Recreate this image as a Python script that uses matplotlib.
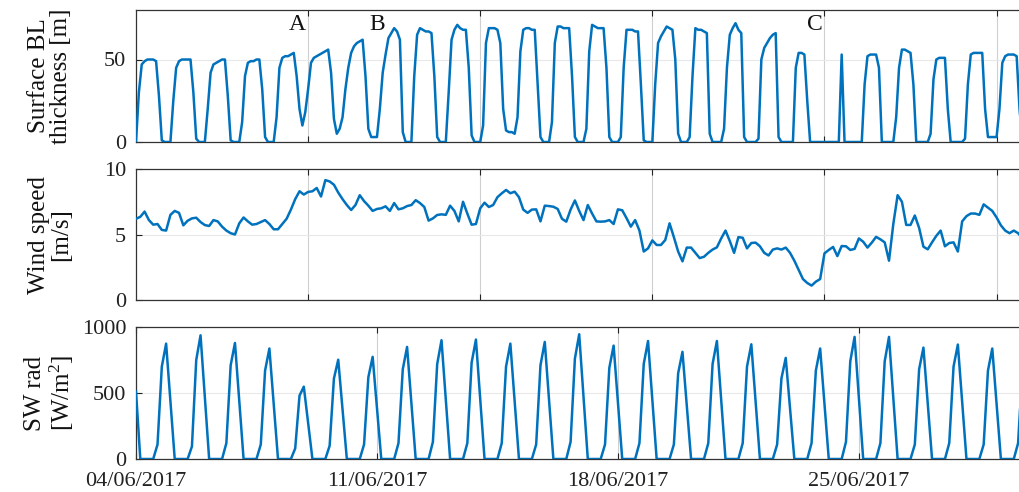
import numpy as np
import matplotlib
matplotlib.use('Agg')
import matplotlib.pyplot as plt
import matplotlib.dates as mdates

plt.rcParams['font.family'] = ['Liberation Serif', 'DejaVu Serif']
plt.rcParams['mathtext.fontset'] = 'custom'
plt.rcParams['mathtext.rm'] = 'Liberation Serif'
plt.rcParams['mathtext.it'] = 'Liberation Serif:italic'

# ---------------- data ----------------
start = np.datetime64('2017-06-04T00:00')

# Surface BL thickness [m], 2-hourly from 04/06/2017 00:00 (one row per day)
bl_thickness = [
    0, 30, 47, 49, 50, 50, 50, 49, 28, 1, 0, 0,
    0, 25, 45, 49, 50, 50, 50, 50, 30, 2, 0, 0,
    0, 20, 42, 47, 48, 49, 50, 50, 28, 1, 0, 0,
    0, 12, 40, 48, 49, 49, 50, 50, 32, 3, 0, 0,
    0, 15, 45, 51, 52, 52, 53, 54, 40, 20, 10, 18,
    32, 48, 51, 52, 53, 54, 55, 56, 42, 14, 5, 8,
    15, 32, 45, 54, 58, 60, 61, 62, 40, 8, 3, 3,
    3, 20, 42, 53, 63, 66, 69, 67, 62, 6, 0, 0,
    0, 40, 65, 69, 68, 67, 67, 66, 40, 3, 0, 0,
    0, 30, 62, 68, 71, 69, 68, 68, 45, 4, 0, 0,
    0, 10, 60, 69, 69, 69, 68, 60, 20, 7, 6, 6,
    5, 15, 55, 68, 69, 69, 68, 68, 35, 3, 0, 0,
    0, 12, 60, 70, 70, 69, 69, 69, 40, 3, 0, 0,
    0, 8, 55, 71, 70, 69, 69, 69, 45, 3, 0, 0,
    0, 3, 45, 68, 68, 68, 67, 67, 35, 1, 0, 0,
    0, 35, 60, 64, 67, 70, 69, 68, 50, 5, 0, 0,
    0, 3, 40, 69, 68, 68, 67, 66, 5, 0, 0, 0,
    0, 8, 45, 65, 69, 72, 68, 66, 3, 0, 0, 0,
    0, 2, 50, 57, 60, 63, 65, 66, 3, 0, 0, 0,
    0, 0, 45, 54, 54, 53, 25, 0, 0, 0, 0, 0,
    0, 0, 0, 0, 0, 0, 53, 0, 0, 0, 0, 0,
    0, 0, 35, 52, 53, 53, 53, 45, 0, 0, 0, 0,
    0, 15, 45, 56, 56, 55, 54, 35, 0, 0, 0, 0,
    0, 5, 38, 50, 51, 51, 51, 20, 0, 0, 0, 0,
    0, 2, 35, 53, 54, 54, 54, 54, 20, 3, 3, 3,
    3, 20, 48, 52, 53, 53, 53, 52, 20, 0,
]

# Wind speed [m/s], 3-hourly from 04/06/2017 00:00
wind_speed = [
    6.2, 6.35, 6.75, 6.1, 5.75, 5.8, 5.35, 5.3,
    6.5, 6.8, 6.65, 5.7, 6.05, 6.23, 6.28, 5.95,
    5.72, 5.65, 6.1, 6.0, 5.6, 5.3, 5.1, 5.0,
    5.85, 6.3, 6.0, 5.75, 5.8, 5.95, 6.1, 5.8,
    5.4, 5.4, 5.8, 6.2, 6.9, 7.7, 8.3, 8.05,
    8.25, 8.3, 8.55, 7.9, 9.15, 9.05, 8.8, 8.2,
    7.7, 7.25, 6.87, 7.25, 8.0, 7.55, 7.2, 6.8,
    6.95, 7.0, 7.15, 6.8, 7.4, 6.92, 7.0, 7.17,
    7.25, 7.62, 7.4, 7.1, 6.06, 6.23, 6.49, 6.54,
    6.5, 7.2, 6.8, 6.0, 7.5, 6.6, 5.75, 5.8,
    7.0, 7.43, 7.1, 7.25, 7.85, 8.14, 8.4, 8.15,
    8.27, 7.85, 6.9, 6.65, 6.9, 6.92, 6.0, 7.2,
    7.17, 7.12, 6.95, 6.2, 5.98, 6.9, 7.6, 6.8,
    6.1, 7.25, 6.6, 6.0, 5.98, 6.0, 6.1, 5.8,
    6.92, 6.85, 6.25, 5.6, 6.1, 5.3, 3.7, 3.94,
    4.55, 4.2, 4.2, 4.58, 5.85, 4.8, 3.7, 2.95,
    4.0, 4.0, 3.6, 3.2, 3.3, 3.6, 3.85, 4.02,
    4.7, 5.3, 4.5, 3.6, 4.8, 4.75, 3.94, 4.35,
    4.38, 4.1, 3.6, 3.4, 3.85, 3.94, 3.85, 4.0,
    3.6, 3.0, 2.3, 1.6, 1.3, 1.1, 1.4, 1.6,
    3.56, 3.82, 4.05, 3.35, 4.12, 4.1, 3.82, 3.9,
    4.7, 4.45, 4.0, 4.38, 4.82, 4.63, 4.4, 3.0,
    5.8, 8.0, 7.5, 5.73, 5.73, 6.45, 5.5, 4.07,
    3.87, 4.4, 4.9, 5.3, 4.1, 4.35, 4.4, 3.7,
    6.0, 6.4, 6.6, 6.6, 6.5, 7.3, 7.05, 6.8,
    6.3, 5.7, 5.3, 5.1, 5.3, 5.1, 4.7,
]

# SW radiation [W/m2], 3-hourly from 04/06/2017 00:00 (one row per day)
sw_rad = [
    510, 0, 0, 0, 0, 110, 700, 874,
    440, 0, 0, 0, 0, 95, 750, 937,
    470, 0, 0, 0, 0, 120, 710, 879,
    440, 0, 0, 0, 0, 110, 670, 837,
    420, 0, 0, 0, 0, 80, 480, 548,
    275, 0, 0, 0, 0, 100, 610, 752,
    375, 0, 0, 0, 0, 110, 620, 774,
    390, 0, 0, 0, 0, 120, 680, 849,
    425, 0, 0, 0, 0, 130, 720, 900,
    450, 0, 0, 0, 0, 120, 730, 905,
    450, 0, 0, 0, 0, 120, 700, 874,
    440, 0, 0, 0, 0, 110, 710, 887,
    445, 0, 0, 0, 0, 130, 760, 945,
    470, 0, 0, 0, 0, 110, 690, 859,
    430, 0, 0, 0, 0, 120, 720, 894,
    445, 0, 0, 0, 0, 110, 650, 812,
    405, 0, 0, 0, 0, 120, 720, 894,
    445, 0, 0, 0, 0, 120, 700, 869,
    435, 0, 0, 0, 0, 110, 610, 766,
    385, 0, 0, 0, 0, 120, 670, 837,
    420, 0, 0, 0, 0, 130, 740, 925,
    460, 0, 0, 0, 0, 120, 740, 925,
    460, 0, 0, 0, 0, 110, 680, 844,
    420, 0, 0, 0, 0, 120, 700, 867,
    435, 0, 0, 0, 0, 110, 670, 837,
    420, 0, 0, 0, 0, 120, 690,
]

ylabels = ['Surface BL\nthickness [m]', 'Wind speed\n[m/s]', 'SW rad\n[W/m$^2$]']
yticks = [[0, 50], [0, 5, 10], [0, 500, 1000]]
ylims = [(0, 80), (0, 10), (0, 1000)]
labels_letters = ['A', 'B', 'C']
letter_times = [np.datetime64('2017-06-08T16:15'), np.datetime64('2017-06-11T00:00'),
                np.datetime64('2017-06-23T17:20')]
letter_y = 71.5
bottom_ticks = [np.datetime64('2017-06-04'), np.datetime64('2017-06-11'),
                np.datetime64('2017-06-18'), np.datetime64('2017-06-25')]
upper_ticks = [np.datetime64('2017-06-09'), np.datetime64('2017-06-14'),
               np.datetime64('2017-06-19'), np.datetime64('2017-06-24'),
               np.datetime64('2017-06-29')]

# ---------------- figure ----------------
W, H = 1020, 492
fig = plt.figure(figsize=(W / 100, H / 100), dpi=100)
line_color = '#0072BD'
spine_color = '#333333'

t_bl = start + np.arange(len(bl_thickness)) * np.timedelta64(2, 'h')
t_ws = start + np.arange(len(wind_speed)) * np.timedelta64(3, 'h')
t_sw = start + np.arange(len(sw_rad)) * np.timedelta64(3, 'h')

series = [(t_bl, bl_thickness), (t_ws, wind_speed), (t_sw, sw_rad)]
boxes = [(10, 142), (169, 300), (327, 459)]
left_px, width_px = 136, 895

axes = []
for k, ((tt, vv), (ytop, ybot)) in enumerate(zip(series, boxes)):
    ax = fig.add_axes([left_px / W, 1 - ybot / H, width_px / W, (ybot - ytop) / H])
    ax.plot(tt, vv, color=line_color, lw=1.8, zorder=3, solid_joinstyle='round')
    ax.set_xlim(np.datetime64('2017-06-04T00:00'), np.datetime64('2017-06-30T00:00'))
    ax.set_ylim(*ylims[k])
    ax.set_yticks(yticks[k])
    if k < 2:
        ax.set_xticks(upper_ticks)
        ax.set_xticklabels([])
    else:
        ax.set_xticks(bottom_ticks)
        ax.xaxis.set_major_formatter(mdates.DateFormatter('%d/%m/%Y'))
    ax.grid(True, axis='x', color='#cfcfcf', lw=0.8, zorder=0)
    ax.grid(True, axis='y', color='#e8e8e8', lw=0.8, zorder=0)
    ax.set_axisbelow(True)
    ax.tick_params(direction='in', length=4, width=0.8, top=True, right=True,
                   colors='#222222', labelsize=16, pad=7)
    ax.tick_params(axis='x', pad=9.5)
    for s in ax.spines.values():
        s.set_color(spine_color)
        s.set_linewidth(0.9)
    fig.text(50 / W, 1 - ((ytop + ybot) / 2) / H, ylabels[k], rotation=90,
             ha='center', va='center', fontsize=18, linespacing=1.05, color='#111111')
    axes.append(ax)

for lt, tx in zip(letter_times, labels_letters):
    axes[0].text(lt, letter_y, tx, ha='center', va='center', fontsize=17, color='#111111')

fig.savefig('out.png', dpi=100)
